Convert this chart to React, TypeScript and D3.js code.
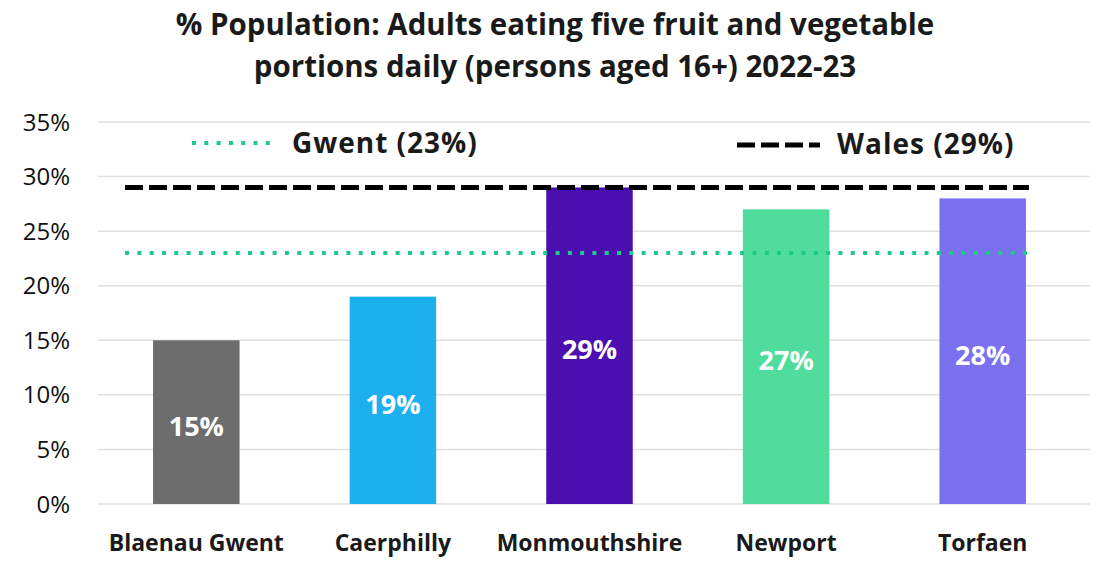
import React from "react";
import * as d3 from "d3";

const categories = ["Blaenau Gwent", "Caerphilly", "Monmouthshire", "Newport", "Torfaen"];
const values = [15, 19, 29, 27, 28];
const barColors = ["#6d6d6d", "#1db0ef", "#4a0fae", "#4fdc9c", "#7b70ee"];
const yTicks = [0, 5, 10, 15, 20, 25, 30, 35];
const gwentValue = 23;
const walesValue = 29;
const titleLines = [
  "% Population: Adults eating five fruit and vegetable",
  "portions daily (persons aged 16+) 2022-23",
];

const W = 1097;
const H = 562;
const FONT = "'Open Sans', 'DejaVu Sans', sans-serif";

export default function App() {
  const x = d3.scaleBand<string>().domain(categories).range([98, 1081]).paddingInner(0.56).paddingOuter(0.28);
  const y = d3.scaleLinear().domain([0, 35]).range([504, 122]);
  const bw = x.bandwidth();
  const lineStart = (x(categories[0]) as number) - 28;
  const lineEnd = (x(categories[categories.length - 1]) as number) + bw + 3;

  return (
    <svg width={W} height={H} style={{ position: "absolute", left: 0, top: 0, background: "#fff" }}>
      <rect width={W} height={H} fill="#fff" />
      {titleLines.map((t, i) => (
        <text key={i} x={555} y={35 + i * 42} textAnchor="middle" fontFamily={FONT} fontWeight="bold" fontSize={29.5} fill="#1a1a1a">
          {t}
        </text>
      ))}
      {yTicks.map((t) => (
        <g key={t}>
          <line x1={98} x2={1090} y1={y(t)} y2={y(t)} stroke="#e0e0e0" strokeWidth={1.5} />
          <text x={70} y={y(t)} dy="0.36em" textAnchor="end" fontFamily={FONT} fontSize={24} fill="#111">
            {t}%
          </text>
        </g>
      ))}
      {categories.map((c, i) => (
        <g key={c}>
          <rect x={x(c)} y={y(values[i])} width={bw} height={y(0) - y(values[i])} fill={barColors[i]} />
          <text
            x={(x(c) as number) + bw / 2}
            y={(y(values[i]) + y(0)) / 2 + 4}
            dy="0.36em"
            textAnchor="middle"
            fontFamily={FONT}
            fontWeight="bold"
            fontSize={27}
            fill="#fff"
          >
            {values[i]}%
          </text>
          <text x={(x(c) as number) + bw / 2} y={543} dy="0.36em" textAnchor="middle" fontFamily={FONT} fontWeight="bold" fontSize={23} fill="#1a1a1a">
            {c}
          </text>
        </g>
      ))}
      <line x1={lineStart} x2={lineEnd} y1={y(gwentValue)} y2={y(gwentValue)} stroke="#1fc98a" strokeWidth={4} strokeDasharray="4 8.3" />
      <line x1={lineStart} x2={lineEnd} y1={y(walesValue)} y2={y(walesValue)} stroke="#000" strokeWidth={5} strokeDasharray="18 6" />
      <line x1={192} x2={270} y1={143} y2={143} stroke="#1fc98a" strokeWidth={4} strokeDasharray="4 8.3" />
      <text x={292} y={143} dy="0.36em" fontFamily={FONT} fontWeight="bold" fontSize={28} letterSpacing={1} fill="#1a1a1a">
        Gwent (23%)
      </text>
      <line x1={737} x2={820} y1={145} y2={145} stroke="#000" strokeWidth={5} strokeDasharray="18 6" />
      <text x={837} y={144} dy="0.36em" fontFamily={FONT} fontWeight="bold" fontSize={28} letterSpacing={1} fill="#1a1a1a">
        Wales (29%)
      </text>
    </svg>
  );
}
